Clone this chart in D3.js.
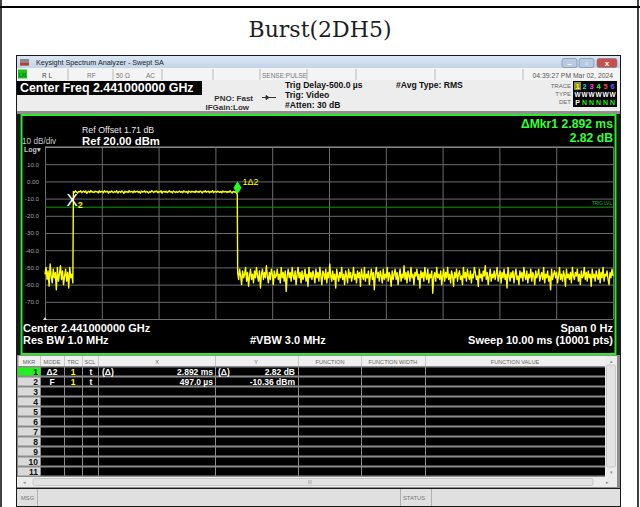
<!DOCTYPE html>
<html>
<head>
<meta charset="utf-8">
<script src="https://cdn.jsdelivr.net/npm/d3@7"></script>
<style>
  body { margin: 0; background: #fff; }
  svg { display: block; }
  text { font-family: "Liberation Sans", Arial, sans-serif; }
</style>
</head>
<body>
<svg id="chart" width="640" height="507"></svg>
<script>
// ---- values ----
const sweepMs = 10;
const refDbm = 20;
const dbPerDiv = 10;
const yLabelValues = [10, 0, -10, -20, -30, -40, -50, -60, -70];
const yLabels = ["10.0", "0.00", "-10.0", "-20.0", "-30.0", "-40.0", "-50.0", "-60.0", "-70.0"];
const trigLevelDbm = -15;

// time span (ms) covered by each trace segment
const preBurstSpan = [0, 0.49];
const burstSpan = [0.5, 3.385];
const postBurstSpan = [3.392, 10];

// trace readings (dBm)
const preBurstDbm = [-54, -50, -57, -52, -61, -48, -55, -59, -51, -56, -53, -63, -50, -58, -54, -49, -57, -52, -60, -55, -51, -58, -53, -62, -50, -56, -54, -59];
const burstDbm = [
    -5.8, -6.4, -5.5, -6.2, -6.8, -5.9, -6.1, -5.4, -6.6, -6.0, -5.7, -6.3, -5.6, -6.9, -6.1, -5.8, -6.4, -5.3, -6.2, -6.0,
    -6.5, -5.7, -6.1, -5.9, -6.7, -5.5, -6.3, -6.0, -5.8, -6.6, -5.4, -6.2, -6.0, -5.7, -6.8, -5.9, -6.3, -5.6, -6.1, -6.5,
    -5.9, -6.2, -5.5, -6.7, -6.0, -5.8, -6.4, -5.6, -6.1, -6.9, -5.7, -6.3, -5.9, -6.5, -5.4, -6.2, -6.0, -5.8, -6.6, -5.5,
    -6.3, -6.0, -5.7, -6.4, -5.9, -6.8, -5.6, -6.2, -6.0, -5.5, -6.5, -5.8, -6.1, -6.7, -5.9, -6.3, -5.4, -6.0, -6.4, -5.7,
    -6.1, -5.6, -6.6, -5.9, -6.2, -5.5, -6.8, -6.0, -5.8, -6.3, -5.7, -6.5, -6.1, -5.4, -6.2, -5.9, -6.7, -5.6, -6.0, -6.4,
    -5.8, -6.5, -6.0, -5.7, -6.3, -5.9, -6.6, -5.5, -6.1, -6.2, -5.8, -6.9, -5.6, -6.0, -6.4, -5.7, -6.2, -5.9, -6.5, -5.5,
    -6.2, -5.9, -6.4, -5.6, -6.0, -6.7, -5.8, -6.1, -5.5, -6.3, -6.0, -5.7, -6.6, -5.9, -6.2, -5.4, -6.5, -6.0, -5.8, -6.3,
    -5.7, -6.1, -6.4, -5.9, -6.6, -5.6, -6.2, -6.0, -5.8, -6.5, -5.9, -6.3, -5.5, -6.1, -6.7, -5.8, -6.2, -6.0, -6.6, -7.5
];
const postBurstDbm = [
    -53, -57, -51, -55, -60, -52, -56, -54, -50, -58, -53, -61, -55, -51, -57, -54, -59, -52, -56, -50,
    -55, -58, -52, -62, -54, -51, -57, -53, -56, -49, -55, -59, -53, -57, -51, -54, -60, -52, -56, -55,
    -51, -57, -54, -59, -50, -56, -53, -58, -52, -64, -55, -51, -56, -53, -58, -50, -55, -57, -52, -60,
    -54, -50, -56, -53, -59, -52, -57, -55, -51, -58, -54, -61, -50, -56, -53, -57, -52, -55, -59, -51,
    -56, -53, -58, -50, -55, -60, -52, -54, -57, -51, -59, -53, -56, -48, -55, -58, -52, -57, -54, -62,
    -51, -55, -58, -53, -56, -50, -57, -54, -60, -52, -55, -59, -51, -56, -53, -58, -55, -50, -57, -54,
    -59, -52, -56, -53, -61, -51, -55, -57, -50, -58, -54, -56, -52, -60, -55, -51, -57, -53, -63, -54,
    -50, -56, -53, -58, -52, -55, -59, -51, -57, -54, -56, -50, -58, -53, -55, -61, -52, -57, -54, -51,
    -57, -53, -60, -55, -51, -58, -54, -56, -49, -57, -53, -59, -52, -55, -58, -50, -56, -54, -60, -53,
    -55, -51, -57, -54, -62, -52, -56, -53, -58, -50, -55, -57, -51, -59, -54, -56, -52, -65, -55, -53,
    -58, -50, -56, -54, -57, -52, -60, -55, -51, -58, -53, -56, -50, -57, -54, -59, -52, -55, -61, -53,
    -56, -51, -58, -54, -52, -57, -55, -60, -50, -56, -53, -58, -51, -55, -57, -52, -59, -54, -56, -50,
    -53, -57, -55, -61, -51, -56, -54, -58, -52, -55, -49, -57, -53, -60, -55, -51, -58, -54, -56, -52,
    -57, -54, -50, -58, -55, -52, -59, -53, -56, -51, -57, -54, -62, -50, -55, -58, -53, -56, -52, -59,
    -54, -51, -57, -55, -60, -52, -56, -53, -58, -50, -55, -57, -52, -59, -54, -56, -51, -58, -53, -55,
    -60, -52, -56, -54, -51, -58, -55, -53, -57, -50, -59, -54, -56, -52, -58, -55, -63, -51, -57, -54,
    -52, -56, -53, -59, -55, -50, -57, -54, -58, -52, -55, -61, -51, -56, -54, -57, -53, -59, -50, -55,
    -57, -53, -55, -51, -58, -54, -60, -52, -56, -55, -50, -57, -53, -58, -52, -56, -54, -61, -51, -56,
    -54, -58, -52, -55, -57, -51, -59, -53, -56, -50, -58, -54, -55, -52, -57, -60, -53, -56, -51, -55
];

const markers = [
    {id: "2", time: 0.497, dbm: -10.36},
    {id: "1", time: 3.389, dbm: -7.54}
];

const tableHeaders = ["MKR", "MODE", "TRC", "SCL", "X", "Y", "FUNCTION", "FUNCTION WIDTH", "FUNCTION VALUE"];
const tableRows = [
    ["1", "Δ2", "1", "t", "(Δ)", "2.892 ms", "(Δ)", "2.82 dB"],
    ["2", "F", "1", "t", "", "497.0 µs", "", "-10.36 dBm"]
];
const markerCount = 11;

// ---- drawing ----
const svg = d3.select("#chart");

function label(parent, x, y, s, size, o = {}) {
    const t = parent.append("text")
        .attr("x", x).attr("y", y)
        .attr("font-size", size)
        .attr("font-weight", o.bold ? "bold" : null)
        .attr("fill", o.fill || "#000")
        .attr("text-anchor", o.anchor || "start")
        .text(s);
    if (o.family) t.style("font-family", o.family);
    return t;
}

// page table borders + heading
svg.append("line").attr("x1", 0).attr("x2", 640).attr("y1", 7).attr("y2", 7).attr("stroke", "#000").attr("stroke-width", 2);
svg.append("line").attr("x1", 1).attr("x2", 1).attr("y1", 0).attr("y2", 507).attr("stroke", "#000").attr("stroke-width", 1.5);
svg.append("line").attr("x1", 638).attr("x2", 638).attr("y1", 0).attr("y2", 507).attr("stroke", "#000").attr("stroke-width", 1.5);
label(svg, 320, 37, "Burst(2DH5)", 22, {anchor: "middle", fill: "#1e1e1e", family: "'DejaVu Serif', serif"});

// screenshot frame
svg.append("rect").attr("x", 16).attr("y", 55).attr("width", 605).attr("height", 452).attr("fill", "#1a1a1a");

// window title bar
const grad = svg.append("defs").append("linearGradient").attr("id", "tb").attr("x1", 0).attr("x2", 0).attr("y1", 0).attr("y2", 1);
grad.append("stop").attr("offset", 0).attr("stop-color", "#dbe6f3");
grad.append("stop").attr("offset", 1).attr("stop-color", "#c3d4e9");
svg.append("rect").attr("x", 17).attr("y", 56).attr("width", 603).attr("height", 12).attr("fill", "url(#tb)");
svg.append("rect").attr("x", 20).attr("y", 59).attr("width", 9).attr("height", 7).attr("fill", "#8a8a8a");
svg.append("rect").attr("x", 20).attr("y", 63).attr("width", 9).attr("height", 2).attr("fill", "#d03030");
label(svg, 36, 65, "Keysight Spectrum Analyzer - Swept SA", 7.2, {fill: "#222"});
[[562, "#b9cbe2"], [579, "#b9cbe2"], [597, "#c9504a"]].forEach(([bx, c], i) => {
    svg.append("rect").attr("x", bx).attr("y", 58.5).attr("width", i === 2 ? 20 : 15).attr("height", 9)
        .attr("rx", 2).attr("fill", c).attr("stroke", "#6d7f99").attr("stroke-width", 0.6);
});
label(svg, 569.5, 66, "–", 8, {anchor: "middle", fill: "#fff", bold: true});
label(svg, 586.5, 66, "▫", 8, {anchor: "middle", fill: "#fff", bold: true});
label(svg, 607, 66, "x", 8, {anchor: "middle", fill: "#fff", bold: true});

// status row
svg.append("rect").attr("x", 17).attr("y", 68).attr("width", 603).attr("height", 12).attr("fill", "#f4f4f4");
svg.append("rect").attr("x", 18).attr("y", 69.5).attr("width", 9).attr("height", 9).attr("fill", "#1cc21c");
label(svg, 22.5, 77, "LXI", 4.5, {anchor: "middle", fill: "#063", bold: true});
[68, 113, 162, 213, 260, 307, 356, 435, 523].forEach(dx => {
    svg.append("line").attr("x1", dx).attr("x2", dx).attr("y1", 69).attr("y2", 80).attr("stroke", "#b8b8b8");
});
label(svg, 42, 77.5, "R L", 6.5, {fill: "#444"});
label(svg, 87, 77.5, "RF", 6.5, {fill: "#777"});
label(svg, 116, 77.5, "50 Ω", 6.5, {fill: "#777"});
label(svg, 146, 77.5, "AC", 6.5, {fill: "#777"});
label(svg, 262, 77.5, "SENSE:PULSE", 6.5, {fill: "#777"});
label(svg, 613, 77.5, "04:39:27 PM Mar 02, 2024", 6.8, {anchor: "end", fill: "#555"});

// settings header
svg.append("rect").attr("x", 17).attr("y", 80).attr("width", 603).attr("height", 32).attr("fill", "#ededed");
svg.append("rect").attr("x", 17).attr("y", 111).attr("width", 603).attr("height", 3).attr("fill", "#8f8f8f");
svg.append("rect").attr("x", 17).attr("y", 81).attr("width", 185).attr("height", 14).attr("fill", "#000");
label(svg, 20, 92, "Center Freq 2.441000000 GHz", 12.4, {bold: true, fill: "#fff"});
label(svg, 253, 100.5, "PNO: Fast", 8, {anchor: "end", bold: true, fill: "#333"});
label(svg, 249, 110, "IFGain:Low", 8, {anchor: "end", bold: true, fill: "#333"});
svg.append("path").attr("d", "M262,97.5H276 M266,95.5L269,97.5L266,99.5Z").attr("stroke", "#333").attr("fill", "#333");
label(svg, 285, 87.5, "Trig Delay-500.0 µs", 8.6, {bold: true, fill: "#111"});
label(svg, 285, 97.5, "Trig: Video", 8.6, {bold: true, fill: "#111"});
label(svg, 285, 107.5, "#Atten: 30 dB", 8.6, {bold: true, fill: "#111"});
label(svg, 396, 87.5, "#Avg Type: RMS", 8.6, {bold: true, fill: "#111"});
label(svg, 571, 88, "TRACE", 6, {anchor: "end", fill: "#666"});
label(svg, 571, 96, "TYPE", 6, {anchor: "end", fill: "#666"});
label(svg, 571, 104, "DET", 6, {anchor: "end", fill: "#666"});
svg.append("rect").attr("x", 573).attr("y", 81).attr("width", 44).attr("height", 26).attr("fill", "#000");
svg.append("rect").attr("x", 574).attr("y", 82).attr("width", 7).attr("height", 8).attr("fill", "#8a8a40");
const traceColors = ["#ffff00", "#00e0e0", "#ff40ff", "#20ff20", "#ff4040", "#6060ff"];
traceColors.forEach((c, i) => {
    const tx = 577.5 + i * 7;
    label(svg, tx, 89, String(i + 1), 7.5, {anchor: "middle", bold: true, fill: c});
    label(svg, tx, 97, "W", 6.5, {anchor: "middle", bold: true, fill: "#fff"});
    label(svg, tx, 105, i === 0 ? "P" : "N", 7, {anchor: "middle", bold: true, fill: i === 0 ? "#fff" : "#20ee20"});
});

// graph panel
const panel = svg.append("g");
panel.append("rect").attr("x", 20).attr("y", 114).attr("width", 598).attr("height", 241).attr("fill", "#000");
panel.append("rect").attr("x", 21.5).attr("y", 115).attr("width", 594).attr("height", 239)
    .attr("fill", "none").attr("stroke", "#2aeb2a").attr("stroke-width", 2);

const x = d3.scaleLinear().domain([0, sweepMs]).range([45, 613]);
const y = d3.scaleLinear().domain([refDbm - 10 * dbPerDiv, refDbm]).range([319, 147]);

const xGrid = panel.append("g")
    .attr("transform", "translate(0," + y.range()[0] + ")")
    .call(d3.axisBottom(x).tickValues(d3.range(0, sweepMs + 1)).tickSize(y.range()[1] - y.range()[0]).tickFormat(""));
const yGrid = panel.append("g")
    .attr("transform", "translate(" + x.range()[0] + ",0)")
    .call(d3.axisLeft(y).tickValues(d3.range(refDbm - 10 * dbPerDiv, refDbm + 1, dbPerDiv))
        .tickSize(x.range()[0] - x.range()[1]).tickPadding(6)
        .tickFormat(d => {
            const i = yLabelValues.indexOf(d);
            return i < 0 ? "" : yLabels[i];
        }));
[xGrid, yGrid].forEach(g => {
    g.select(".domain").remove();
    g.selectAll(".tick line").attr("stroke", "#6b6b6b");
});
yGrid.selectAll(".tick text").attr("font-size", 6.2).attr("fill", "#a0a0a0");
panel.append("line").attr("x1", 45).attr("x2", 613).attr("y1", 147).attr("y2", 147).attr("stroke", "#9a9a9a");
panel.append("path").attr("d", "M43,320L45,317L47,320Z").attr("fill", "#ddd");

// trigger level
panel.append("line").attr("x1", 45).attr("x2", 613)
    .attr("y1", y(trigLevelDbm)).attr("y2", y(trigLevelDbm)).attr("stroke", "#0a9a0a");
label(panel, 612, y(trigLevelDbm) - 2, "TRIG LVL", 4.6, {anchor: "end", fill: "#1fbf1f"});

// trace: each segment spread evenly over its own time span
function segment(values, span) {
    const dt = (span[1] - span[0]) / (values.length - 1);
    return values.map((v, i) => ({t: span[0] + i * dt, dbm: v}));
}
const trace = segment(preBurstDbm, preBurstSpan)
    .concat(segment(burstDbm, burstSpan), segment(postBurstDbm, postBurstSpan));
const line = d3.line()
    .x(d => x(d.t))
    .y(d => y(d.dbm));
panel.append("path")
    .datum(trace)
    .attr("d", line)
    .attr("fill", "none")
    .attr("stroke", "#ffff00")
    .attr("stroke-width", 1.4)
    .attr("stroke-linejoin", "round");

// markers
const m2 = markers[0], m1 = markers[1];
label(panel, x(m2.time) - 1, y(m2.dbm) + 7, "X", 17, {anchor: "middle", fill: "#fff"});
label(panel, x(m2.time) + 7, y(m2.dbm) + 9, m2.id, 9, {anchor: "middle", fill: "#ffff00", bold: true});
const mx = x(m1.time), my = y(m1.dbm);
panel.append("path")
    .attr("d", "M" + mx + "," + (my - 13) + "L" + (mx + 4) + "," + (my - 6.5) + "L" + mx + "," + my + "L" + (mx - 4) + "," + (my - 6.5) + "Z")
    .attr("fill", "#22ff22");
label(panel, mx + 5, my - 9, m1.id + "Δ" + m2.id, 9, {fill: "#ffff00"});

// panel annotations
label(panel, 82, 133, "Ref Offset 1.71 dB", 8.8, {fill: "#e8e8e8"});
label(panel, 82, 144.5, "Ref 20.00 dBm", 11.3, {bold: true, fill: "#fff"});
label(panel, 22, 143.5, "10 dB/div", 8.2, {fill: "#c8c8c8"});
label(panel, 24, 151.5, "Log▾", 7, {fill: "#c8c8c8", bold: true});
label(panel, 613, 128, "ΔMkr1 2.892 ms", 12.2, {anchor: "end", bold: true, fill: "#33ff33"});
label(panel, 613, 141.5, "2.82 dB", 12.2, {anchor: "end", bold: true, fill: "#33ff33"});
label(panel, 23, 332, "Center 2.441000000 GHz", 11, {bold: true, fill: "#fff"});
label(panel, 23, 344, "Res BW 1.0 MHz", 11, {bold: true, fill: "#fff"});
label(panel, 250, 344, "#VBW 3.0 MHz", 11, {bold: true, fill: "#fff"});
label(panel, 613, 332, "Span 0 Hz", 11, {anchor: "end", bold: true, fill: "#fff"});
label(panel, 613, 344, "Sweep  10.00 ms (10001 pts)", 11, {anchor: "end", bold: true, fill: "#fff"});

// marker table
const colEdges = [18, 40, 64, 82, 98, 215, 298, 361, 425, 605];
const headCenters = [29, 52, 73, 90, 157, 256, 330, 393, 515];
const table = svg.append("g");
table.append("rect").attr("x", 17).attr("y", 355).attr("width", 603).attr("height", 133).attr("fill", "#8c8c8c");
table.append("rect").attr("x", 18).attr("y", 356).attr("width", 587).attr("height", 10).attr("fill", "#efefef");
colEdges.forEach(cx => {
    table.append("line").attr("x1", cx + 0.5).attr("x2", cx + 0.5)
        .attr("y1", 356).attr("y2", 366).attr("stroke", "#c8c8c8");
});
tableHeaders.forEach((h, i) => {
    label(table, headCenters[i], 363.5, h, 5.6, {anchor: "middle", fill: "#666"});
});
d3.range(markerCount).forEach(r => {
    const top = 366 + r * 10;
    d3.pairs(colEdges).forEach(([a, b], c) => {
        table.append("rect").attr("x", a + (c ? 1 : 0)).attr("y", top + 1.5).attr("width", b - a - (c ? 1 : 0)).attr("height", 8)
            .attr("fill", c === 0 ? (r === 0 ? "#22ee22" : "#d9d9d9") : "#000");
    });
    label(table, 38, top + 9, String(r + 1), 8.5, {anchor: "end", bold: true, fill: "#111"});
});
tableRows.forEach((row, r) => {
    const by = 366 + r * 10 + 8.5;
    label(table, 52, by, row[1], 8.5, {anchor: "middle", bold: true, fill: "#fff"});
    label(table, 73, by, row[2], 8.5, {anchor: "middle", bold: true, fill: "#ffff00"});
    label(table, 91, by, row[3], 8.5, {anchor: "middle", bold: true, fill: "#fff"});
    label(table, 102, by, row[4], 8.5, {bold: true, fill: "#fff"});
    label(table, 213, by, row[5], 8.5, {anchor: "end", bold: true, fill: "#fff"});
    label(table, 218, by, row[6], 8.5, {bold: true, fill: "#fff"});
    label(table, 295, by, row[7], 8.5, {anchor: "end", bold: true, fill: "#fff"});
});

// scrollbars
table.append("rect").attr("x", 605).attr("y", 356).attr("width", 12).attr("height", 121).attr("fill", "#ececec");
table.append("rect").attr("x", 606.5).attr("y", 365).attr("width", 9).attr("height", 102).attr("rx", 1.5)
    .attr("fill", "#e2e2e2").attr("stroke", "#bcbcbc").attr("stroke-width", 0.7);
label(table, 611, 362.5, "▴", 5, {anchor: "middle", fill: "#888"});
label(table, 611, 474, "▾", 5, {anchor: "middle", fill: "#888"});
table.append("rect").attr("x", 17).attr("y", 477).attr("width", 600).attr("height", 10).attr("fill", "#ececec");
table.append("rect").attr("x", 33).attr("y", 478.5).attr("width", 560).attr("height", 7).attr("rx", 1.5)
    .attr("fill", "#e2e2e2").attr("stroke", "#bcbcbc").attr("stroke-width", 0.7);
label(table, 24, 484, "◂", 5, {anchor: "middle", fill: "#888"});
label(table, 310, 484, "III", 4.5, {anchor: "middle", fill: "#888"});
label(table, 607, 484, "▸", 5, {anchor: "middle", fill: "#888"});

// message bar
svg.append("rect").attr("x", 17).attr("y", 489).attr("width", 603).attr("height", 17).attr("fill", "#e0e0e0");
[37.5, 400.5, 431.5].forEach(dx => {
    svg.append("line").attr("x1", dx).attr("x2", dx).attr("y1", 489).attr("y2", 506).attr("stroke", "#b0b0b0");
});
label(svg, 21, 500, "MSG", 5.8, {fill: "#777"});
label(svg, 403, 500, "STATUS", 5.8, {fill: "#777"});
</script>
</body>
</html>
